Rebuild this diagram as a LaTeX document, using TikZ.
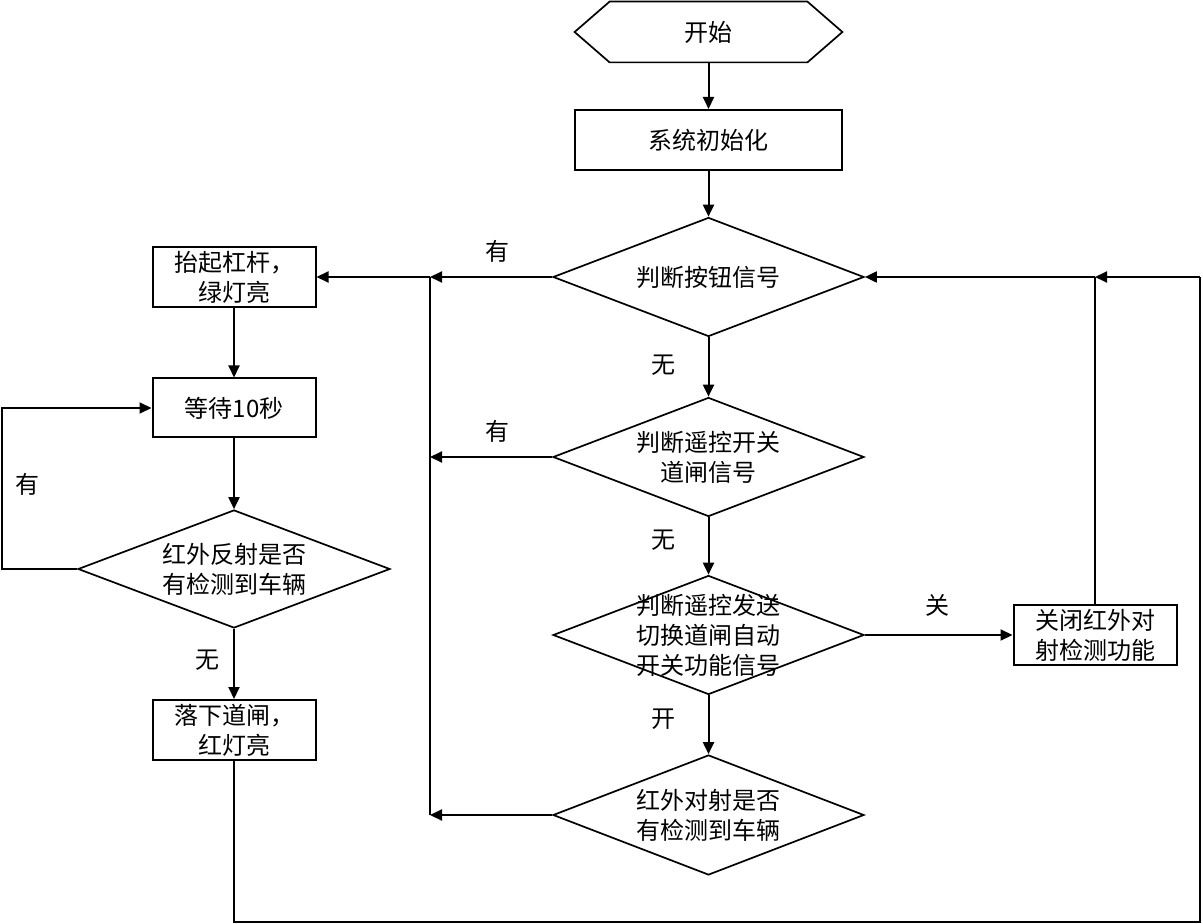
\documentclass[tikz,border=0pt]{standalone}
\usepackage{fontspec}
\setmainfont{Noto Sans CJK SC}
\usetikzlibrary{arrows.meta,shapes.geometric}
\begin{document}
\begin{tikzpicture}[x=0.5pt,y=-0.5pt,
  every node/.style={font=\fontsize{12pt}{15pt}\selectfont},
  box/.style={draw,line width=1pt,minimum width=81.5pt,minimum height=30pt,inner sep=0pt,align=center},
  bigbox/.style={draw,line width=1pt,minimum width=133.5pt,minimum height=30pt,inner sep=0pt,align=center},
  decision/.style={draw,line width=0.85pt,diamond,inner sep=0pt,minimum width=155.5pt,minimum height=59.5pt},
  txt/.style={align=center,inner sep=0pt},
  lbl/.style={inner sep=0pt},
  arr/.style={line width=1pt,-{Triangle[length=6pt,width=5.5pt]}},
  ln/.style={line width=1pt}]
\useasboundingbox (0,0) rectangle (1203,924);
% nodes
\node[minimum width=133.5pt,minimum height=30pt,inner sep=0pt] (start) at (708.5,32) {开始};
\draw[line width=0.85pt] (start.west) -- ([xshift=17.5pt]start.north west) -- ([xshift=-17.5pt]start.north east)
  -- (start.east) -- ([xshift=-17.5pt]start.south east) -- ([xshift=17.5pt]start.south west) -- cycle;
\node[bigbox] (init) at (708.5,140) {系统初始化};
\node[decision,label={[txt]center:判断按钮信号}] (d1) at (708.5,277) {};
\node[decision,label={[txt]center:判断遥控开关\\道闸信号}] (d2) at (708.5,457) {};
\node[decision,label={[txt]center:判断遥控发送\\切换道闸自动\\开关功能信号}] (d3) at (708.5,635) {};
\node[decision,minimum height=60pt,label={[txt]center:红外对射是否\\有检测到车辆}] (d5) at (708.5,815) {};
\node[box] (close) at (1095,635) {关闭红外对\\射检测功能};
\node[box] (lift) at (234,277) {抬起杠杆，\\绿灯亮};
\node[box,minimum height=29.5pt] (wait) at (234,408) {等待10秒};
\node[decision,minimum width=156pt,minimum height=59pt,label={[txt]center:红外反射是否\\有检测到车辆}] (d4) at (234,569) {};
\node[box] (drop) at (234,730) {落下道闸，\\红灯亮};
% junction coordinates
\coordinate (j1) at (430,277);
\coordinate (j2) at (430,457);
\coordinate (j5) at (430,815);
\coordinate (c1) at (1095,277);
\coordinate (r1) at (1200,277);
\coordinate (r0) at (1200,922);
\coordinate (b1) at (234,922);
\coordinate (l1) at (2,569);
% connectors
\draw[arr] (start) -- (init);
\draw[arr] (init) -- (d1);
\draw[arr] (d1) -- (d2);
\draw[arr] (d2) -- (d3);
\draw[arr] (d3) -- (d5);
\draw[arr] (d1.west) -- (j1);
\draw[arr] (j1) -- (lift.east);
\draw[arr] (d2.west) -- (j2);
\draw[arr] (d5.west) -- (j5);
\draw[ln] (j5) -- (j1);
\draw[arr] (d3.east) -- (close.west);
\draw[ln] (close.north) -- (c1);
\draw[arr] (r1) -- (c1);
\draw[arr] (c1) -- (d1.east);
\draw[ln] (drop.south) -- (b1) -- (r0) -- (r1);
\draw[arr] (lift) -- (wait);
\draw[arr] (wait) -- (d4);
\draw[arr] (d4) -- (drop);
\draw[arr] (d4.west) -- (l1) |- (wait.west);
% labels
\node[lbl] (y1) at (497,251) {有};
\node[lbl] (n1) at (663,365) {无};
\node[lbl] (y2) at (497,431) {有};
\node[lbl] (n2) at (663,540) {无};
\node[lbl] (g1) at (937,605) {关};
\node[lbl] (k1) at (663,719) {开};
\node[lbl] (y3) at (27,484) {有};
\node[lbl] (n3) at (207,660) {无};
\end{tikzpicture}
\end{document}
